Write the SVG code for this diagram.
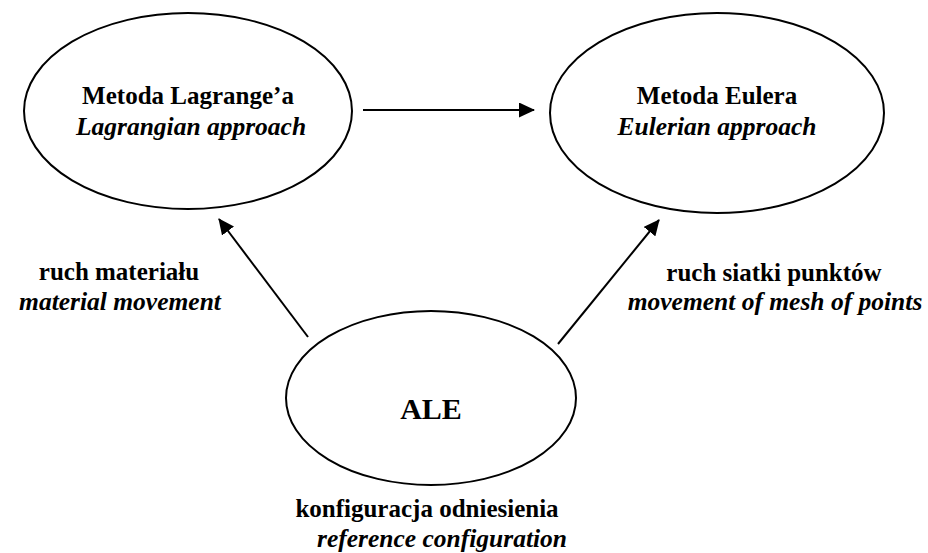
<svg xmlns="http://www.w3.org/2000/svg" width="928" height="553" viewBox="0 0 928 553">
<style>
.n{fill:#fff;stroke:#000;stroke-width:2}
.c{stroke:#000;stroke-width:2;fill:none}
text{font-family:"Liberation Serif","Times New Roman",serif;fill:#000;text-anchor:middle}
.b{font-weight:bold;font-size:25px}
.i{font-style:italic;font-weight:bold;font-size:25.5px}
.big{font-weight:bold;font-size:30px}
</style>
<defs>
<marker id="ah" viewBox="0 0 16 15" refX="15" refY="7.5" markerWidth="16" markerHeight="15" markerUnits="userSpaceOnUse" orient="auto">
<path d="M0,0 L16,7.5 L0,15 Z" fill="#000"/>
</marker>
</defs>
<rect width="928" height="553" fill="#fff"/>
<g id="connectors">
<line class="c" x1="363" y1="110" x2="534" y2="110" marker-end="url(#ah)"/>
<line class="c" x1="308" y1="337" x2="219" y2="219" marker-end="url(#ah)"/>
<line class="c" x1="558" y1="344" x2="659" y2="220" marker-end="url(#ah)"/>
</g>
<g id="lagrange">
<ellipse class="n" cx="188" cy="111" rx="164" ry="98"/>
<text class="b" x="188" y="104">Metoda Lagrange’a</text>
<text class="i" x="191" y="135">Lagrangian approach</text>
</g>
<g id="euler">
<ellipse class="n" cx="717" cy="113" rx="167" ry="100"/>
<text class="b" x="717" y="104">Metoda Eulera</text>
<text class="i" x="717" y="135">Eulerian approach</text>
</g>
<g id="ale">
<ellipse class="n" cx="431" cy="398" rx="145" ry="87"/>
<text class="big" x="431" y="419">ALE</text>
</g>
<g id="labels">
<text class="b" x="119" y="280">ruch materiału</text>
<text class="i" x="120" y="310">material movement</text>
<text class="b" x="774" y="281">ruch siatki punktów</text>
<text class="i" x="775" y="310">movement of mesh of points</text>
<text class="b" x="427" y="517">konfiguracja odniesienia</text>
<text class="i" x="442" y="547">reference configuration</text>
</g>
</svg>
